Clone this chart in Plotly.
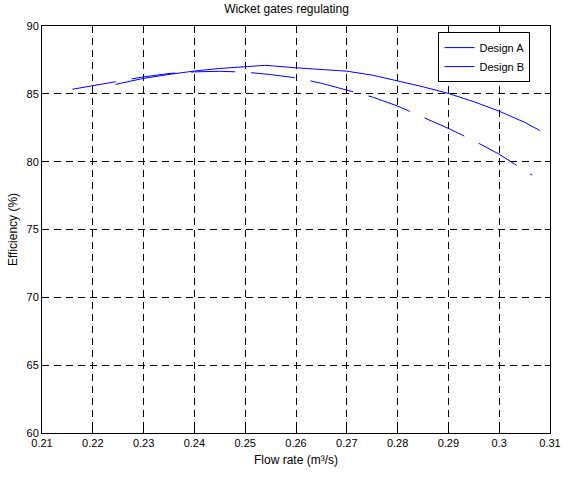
import plotly.graph_objects as go

# Design A (solid)
a_flow = [0.2245, 0.23, 0.235, 0.24, 0.245, 0.25, 0.254, 0.26, 0.265, 0.27,
          0.275, 0.28, 0.285, 0.29, 0.295, 0.30, 0.305, 0.308]
a_eff = [85.7, 86.14, 86.43, 86.68, 86.87, 87.0, 87.1, 86.92, 86.8, 86.67,
         86.38, 85.95, 85.52, 85.03, 84.42, 83.72, 82.9, 82.3]

# Design B (dashed)
b_flow = [0.216, 0.225, 0.23, 0.235, 0.24, 0.245, 0.25, 0.255, 0.26, 0.265,
          0.27, 0.275, 0.28, 0.285, 0.29, 0.295, 0.30, 0.3065]
b_eff = [85.34, 85.95, 86.25, 86.5, 86.62, 86.66, 86.6, 86.42, 86.18, 85.78,
         85.27, 84.77, 84.1, 83.3, 82.45, 81.55, 80.55, 79.0]

x_ticks = [0.21, 0.22, 0.23, 0.24, 0.25, 0.26, 0.27, 0.28, 0.29, 0.30, 0.31]
x_labels = ["0.21", "0.22", "0.23", "0.24", "0.25", "0.26", "0.27", "0.28", "0.29", "0.3", "0.31"]
y_ticks = [60, 65, 70, 75, 80, 85, 90]

font = "Liberation Sans, Arial, sans-serif"

fig = go.Figure()
fig.add_trace(go.Scatter(x=a_flow, y=a_eff, mode="lines", name="Design A",
                         line=dict(color="#0000ff", width=1)))
fig.add_trace(go.Scatter(x=b_flow, y=b_eff, mode="lines", name="Design B",
                         line=dict(color="#0000ff", width=1, dash="44px,16px")))

axis_common = dict(
    showline=True, linecolor="black", linewidth=1, mirror="ticks",
    ticks="inside", ticklen=5, tickcolor="black", tickwidth=1,
    showgrid=True, gridcolor="black", gridwidth=1, griddash="7px,5px",
    zeroline=False, tickfont=dict(family=font, size=11, color="black"),
)

fig.update_xaxes(range=[0.21, 0.31], tickvals=x_ticks, ticktext=x_labels,
                 title=dict(text="Flow rate (m³/s)", font=dict(family=font, size=12, color="black"), standoff=7),
                 **axis_common)
fig.update_yaxes(range=[60, 90], tickvals=y_ticks,
                 title=dict(text="Efficiency (%)", font=dict(family=font, size=12, color="black"), standoff=6),
                 **axis_common)

fig.update_layout(
    width=573, height=477,
    margin=dict(l=41, r=12, t=26, b=39),
    paper_bgcolor="white", plot_bgcolor="white",
    title=dict(text="Wicket gates regulating", x=0.5, xanchor="center", y=0.99, yanchor="top",
               font=dict(family=font, size=12, color="black")),
    legend=dict(x=0.9615, xanchor="right", y=0.985, yanchor="top",
                bgcolor="white", bordercolor="black", borderwidth=1,
                font=dict(family=font, size=11, color="black"),
                tracegroupgap=0, itemwidth=30),
    showlegend=True,
)

fig.write_html("out.html")
